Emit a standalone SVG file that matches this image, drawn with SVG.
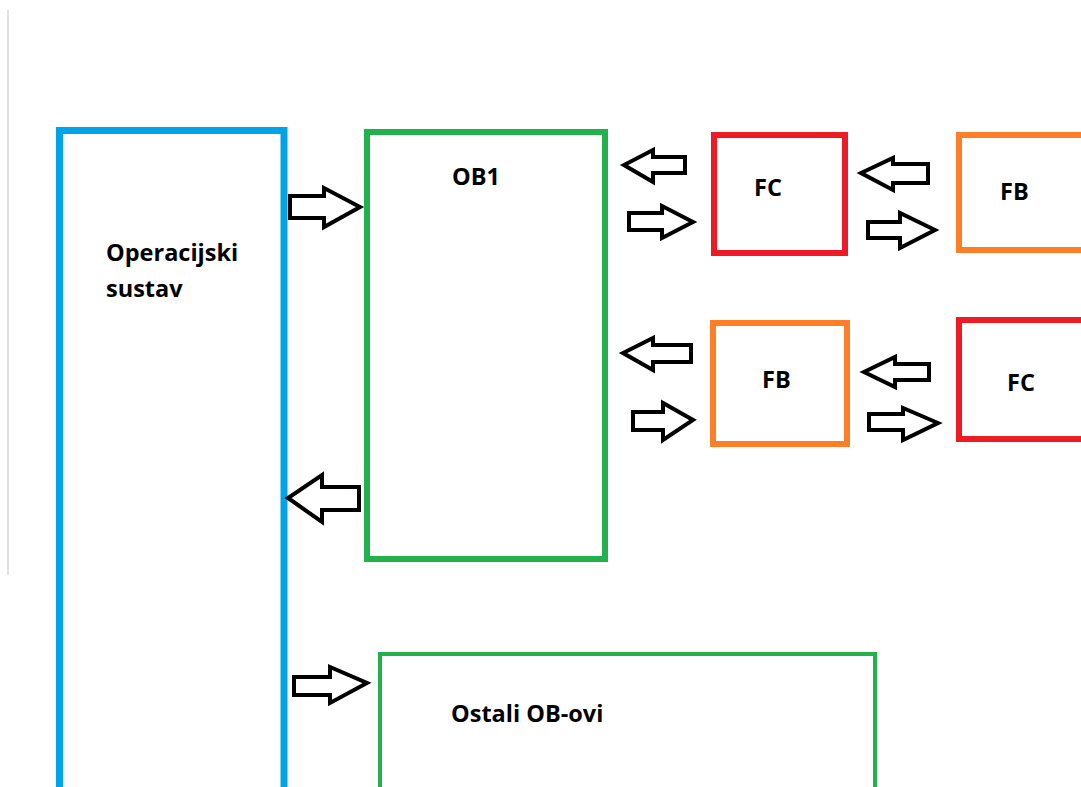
<svg xmlns="http://www.w3.org/2000/svg" width="1081" height="787" viewBox="0 0 1081 787">
<style>
.box{fill:none}
.blue{stroke:#00a2e8;stroke-width:7}
.green{stroke:#22b14c;stroke-width:6}
.green2{stroke:#22b14c;stroke-width:4}
.red{stroke:#ed1c24;stroke-width:6}
.orange{stroke:#ff7f27;stroke-width:6}
.arr{fill:#fff;stroke:#000;stroke-width:4;stroke-linejoin:miter}
text{font-family:"Open Sans","Noto Sans","Liberation Sans",sans-serif;font-weight:bold;font-size:23.5px;fill:#000}
</style>
<rect width="1081" height="787" fill="#fff"/>
<line x1="8" y1="10" x2="8" y2="575" stroke="#d4d4e2" stroke-width="1.5"/>
<g id="operacijski-sustav">
<rect class="box blue" x="59.5" y="130.5" width="224.5" height="680"/>
<text x="106" y="261">Operacijski</text>
<text x="106" y="297">sustav</text>
</g>
<g id="ob1">
<rect class="box green" x="367" y="132" width="238" height="427"/>
<text x="452" y="185">OB1</text>
</g>
<g id="fc1">
<rect class="box red" x="714" y="135" width="131" height="118"/>
<text x="754" y="196">FC</text>
</g>
<g id="fb1">
<rect class="box orange" x="959" y="135" width="140" height="115"/>
<text x="1000" y="200">FB</text>
</g>
<g id="fb2">
<rect class="box orange" x="713" y="323" width="134" height="121"/>
<text x="762" y="388">FB</text>
</g>
<g id="fc2">
<rect class="box red" x="959" y="320" width="140" height="119"/>
<text x="1007" y="391">FC</text>
</g>
<g id="ostali">
<rect class="box green2" x="380" y="654" width="495" height="160"/>
<text x="451" y="722">Ostali OB-ovi</text>
</g>
<g id="connectors">
<polygon class="arr" points="290,196 324,196 324,188 360,207 324,227 324,218 290,218"/>
<polygon class="arr" points="685,157 653,157 653,150 624,165 653,182 653,173 685,173"/>
<polygon class="arr" points="629,213 662,213 662,206 693,222 662,238 662,230 629,230"/>
<polygon class="arr" points="928,164 893,164 893,158 861,173 893,190 893,183 928,183"/>
<polygon class="arr" points="868,222 900,222 900,213 935,230 900,248 900,238 868,238"/>
<polygon class="arr" points="691,345 653,345 653,338 623,353 653,370 653,362 691,362"/>
<polygon class="arr" points="633,412 663,412 663,403 693,420 663,440 663,430 633,430"/>
<polygon class="arr" points="929,364 895,364 895,357 864,372 895,387 895,380 929,380"/>
<polygon class="arr" points="869,414 903,414 903,408 938,423 903,440 903,430 869,430"/>
<polygon class="arr" points="359,487 322,487 322,475 288,498 322,522 322,510 359,510"/>
<polygon class="arr" points="294,677 330,677 330,667 367,683 330,703 330,695 294,695"/>
</g>
</svg>
